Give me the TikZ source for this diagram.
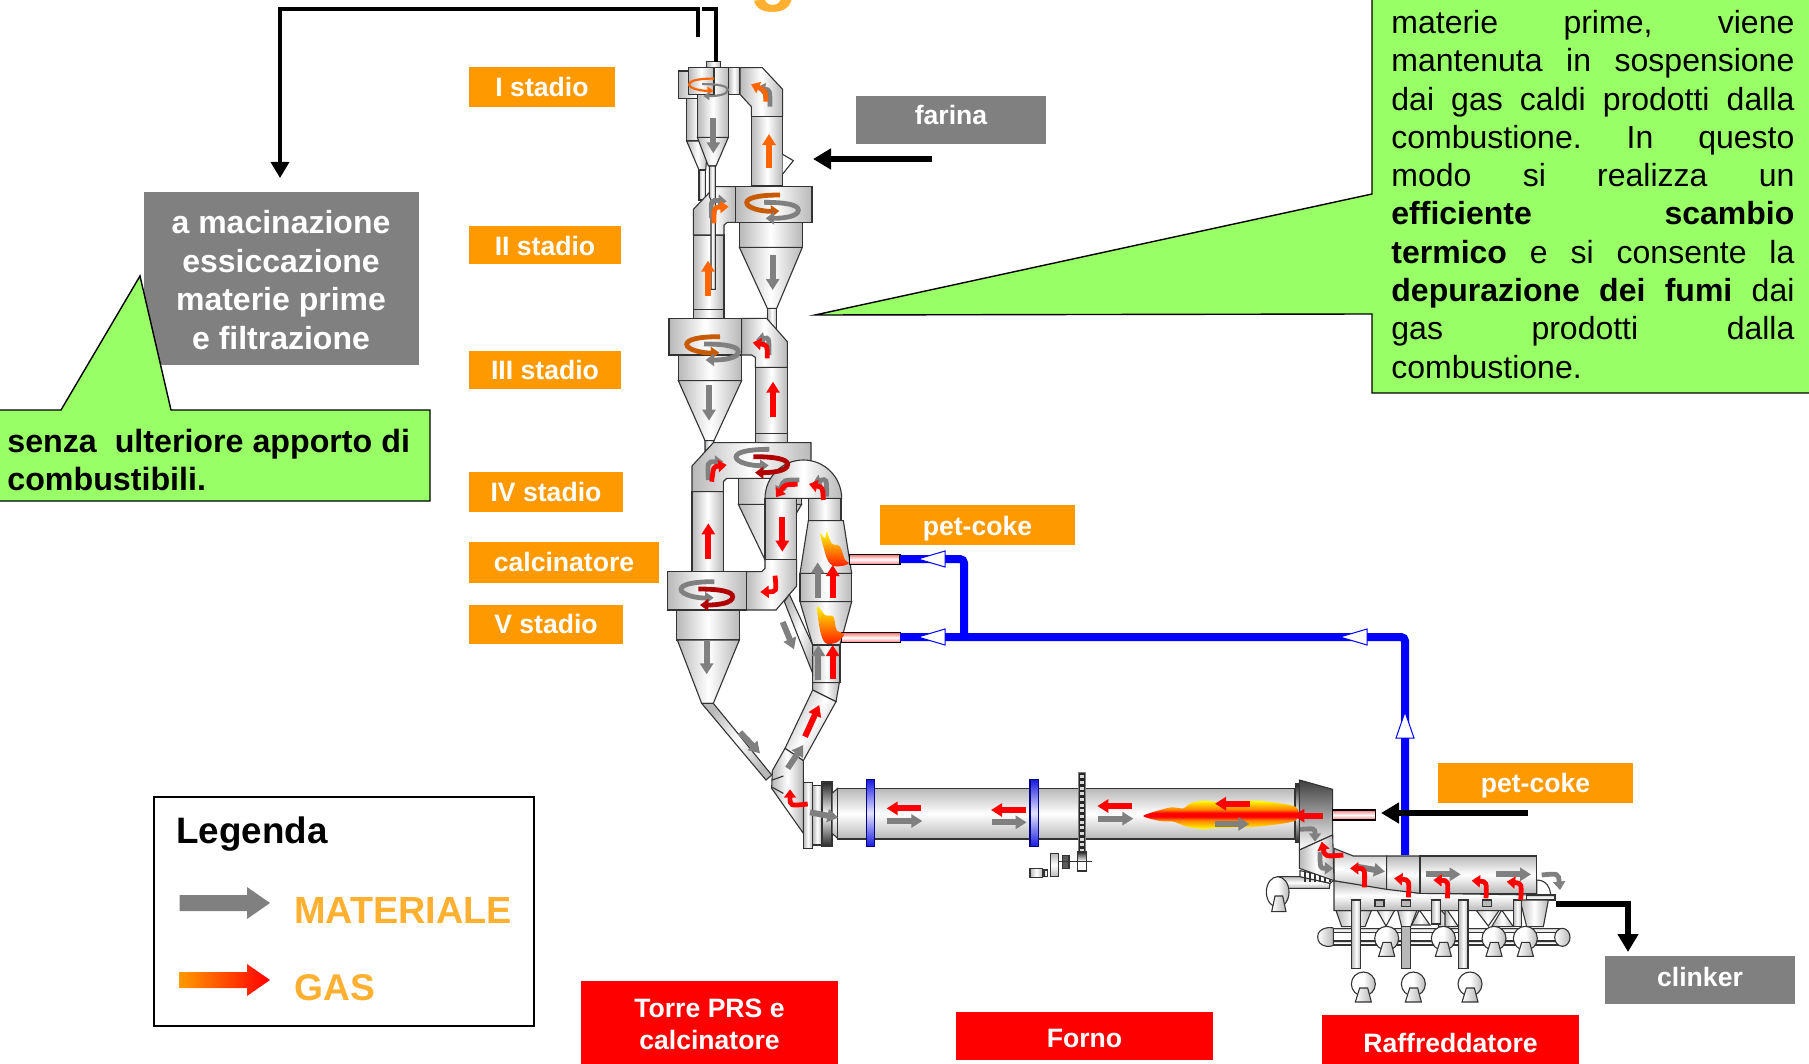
\documentclass[tikz,border=0pt]{standalone}
\usepackage{fontspec}
\setmainfont{Liberation Sans}
\usetikzlibrary{arrows.meta,calc,shapes.geometric}
\definecolor{boxor}{HTML}{FF9900}
\definecolor{boxgr}{HTML}{808080}
\definecolor{calloutg}{HTML}{99FF66}
\definecolor{legor}{HTML}{FFB030}
\definecolor{gasor}{HTML}{FF6600}
\definecolor{darkor}{HTML}{C85A00}
\definecolor{darkred}{HTML}{B00000}
\definecolor{mred}{HTML}{FF0000}
\definecolor{mgr}{HTML}{808080}
\definecolor{pipegr}{HTML}{B8B8B8}
\definecolor{ringend}{HTML}{1818E0}
\definecolor{ringmid}{HTML}{E4E4FF}
\definecolor{flameor}{HTML}{FF8000}
\pgfdeclareverticalshading{flameband}{100bp}{color(0bp)=(yellow); color(26bp)=(yellow); color(41bp)=(flameor); color(47bp)=(red); color(53bp)=(red); color(59bp)=(flameor); color(74bp)=(yellow); color(100bp)=(yellow)}
\pgfdeclareverticalshading{ringband}{100bp}{color(0bp)=(ringend); color(25bp)=(ringend); color(50bp)=(ringmid); color(75bp)=(ringend); color(100bp)=(ringend)}
\tikzset{
  zA/.style={shift={(650,0)},x=0.166667pt,y=-0.166667pt},
  zB/.style={shift={(650,330)},x=0.166667pt,y=-0.166667pt},
  zC/.style={shift={(740,700)},x=0.166667pt,y=-0.166667pt},
  zD/.style={shift={(1130,760)},x=0.166667pt,y=-0.166667pt},
  edge/.style={draw=black!80,line width=.55pt},
  vg/.style={edge,left color=pipegr,right color=pipegr,middle color=white},
  hg/.style={edge,top color=pipegr,bottom color=pipegr,middle color=white},
  dg/.style={edge,top color=black!85,bottom color=black!85,middle color=white},
  blg/.style={draw=blue!50!black,line width=.55pt,shading=ringband},
  tube/.style={draw=black,line width=.6pt,top color=red!55,bottom color=red!55,middle color=white},
  farr/.style={line width=3pt,-{Triangle[length=5.5pt,width=6.5pt]}},
  sarr/.style={line width=2.4pt,-{Triangle[length=4.2pt,width=6pt]}},
  thin arr/.style={line width=1.1pt,-{Triangle[length=3pt,width=4pt]}},
  tagtext/.style={text=white,font=\bfseries\fontsize{13.3}{16}\selectfont,align=center,inner sep=0pt},
  bigtext/.style={text=white,font=\bfseries\fontsize{16}{19.2}\selectfont,align=center,inner sep=0pt},
  callout/.style={fill=calloutg,draw=black,line width=.7pt},
  conn/.style={draw=black,line width=1.8pt},
  connh/.style={conn,-{Triangle[length=8pt,width=9pt]}},
  connw/.style={draw=black,line width=3pt,-{Triangle[length=9pt,width=10pt]}},
  coal/.style={draw=blue,line width=4pt,rounded corners=2pt},
  coalhead/.style={fill=white,draw=blue,line width=.5pt},
}
% swirl: centre, scale, upper colour, lower colour, arrow style
\newcommand{\swirl}[6]{%
  \begin{scope}[shift={(#1,#2)},x=#3*0.166667pt,y=-#3*0.166667pt]
    \draw[#6,#4] (23,-35) .. controls (-47,-35) and (-77,-25) .. (-77,-12) .. controls (-77,5) and (-27,15) .. (21,13);
    \draw[#6,#5] (-25,-13) .. controls (43,-13) and (78,-5) .. (78,10) .. controls (78,30) and (33,35) .. (-20,35);
  \end{scope}}
\newcommand{\bendarr}[5]{\draw[sarr,#1] (#2) .. controls (#3) and (#3) .. (#4)#5;}
\newcommand{\fan}[3]{%
  \begin{scope}[shift={(#1,#2)},x=#3*0.166667pt,y=-#3*0.166667pt]
    \path[edge,left color=white,right color=pipegr,middle color=white] (0,0) circle [radius=36];
    \path[edge,left color=white,right color=pipegr] (-24,54) -- (24,54) -- (13,12) -- (-11,12) -- cycle;
  \end{scope}}
\begin{document}
\begin{tikzpicture}[x=0.5pt,y=-0.5pt]
\useasboundingbox (0,0) rectangle (1809,1064);
\fill[white] (0,0) rectangle (1809,1064);

% clipped title fragment
\begin{scope}
\clip (0,0) rectangle (1809,1064);
\node[anchor=base,inner sep=0pt,text=legor,font=\bfseries\fontsize{40}{40}\selectfont] (titlefrag) at (774,-4) {g};
\end{scope}

%% ---------- TOP TOWER (zoom 1 coordinates) ----------
\begin{scope}[zA]
  % rear cyclone I
  \path[vg] (110,295) rectangle (175,423);
  \path[vg] (110,423) -- (175,423) -- (167,510) -- (147,510) -- cycle;
  \path[vg] (147,510) rectangle (167,600);
  \path[vg] (85,213) rectangle (192,295);
  % duct to II
  \path[vg] (130,705) rectangle (222,928);
  \path[vg] (130,928) rectangle (222,956);
  \path[vg] (195,560) -- (257,560) -- (257,667) -- (232,667) -- (222,675) -- (222,705) -- (130,705) -- (130,628) -- cycle;
  % front cyclone I
  \path[vg] (142,203) rectangle (235,412);
  \path[vg] (115,203) rectangle (192,283);
  \path[vg] (142,412) -- (235,412) -- (198,498) -- (175,498) -- cycle;
  \path[vg] (170,185) rectangle (212,203);
  \path[vg] (178,498) -- (196,498) -- (196,868) -- (183,868) -- (183,600) -- (178,590) -- cycle;
  \path[vg] (235,203) rectangle (270,283);
  \path[vg] (270,203) -- (337,203) -- (398,268) -- (398,350) -- (304,350) -- (304,320) -- (270,283) -- cycle;
  \path[vg] (304,350) rectangle (398,558);
  \path[draw=black!80,fill=white,line width=.55pt] (398,463) -- (430,482) -- (398,522);
  % cyclone II
  \path[vg] (268,667) rectangle (457,742);
  \path[vg] (268,742) -- (457,742) -- (380,925) -- (352,925) -- cycle;
  \path[vg] (352,925) rectangle (380,985);
  \path[vg] (257,560) rectangle (486,667);
  % arrows
  \swirl{175}{262}{.75}{gasor}{mgr}{thin arr}
  \draw[farr,mgr] (190,355) -- (190,460);
  \draw[farr,gasor] (357,505) -- (357,402);
  \draw[farr,mgr] (368,765) -- (368,870);
  \draw[farr,gasor] (174,888) -- (174,782);
  \bendarr{mgr}{360,320}{360,270}{320,263}{}
  \bendarr{gasor}{347,305}{347,272}{303,253}{}
  \bendarr{mgr}{185,655}{182,600}{230,604}{}
  \bendarr{gasor}{192,670}{192,622}{236,620}{}
  \swirl{367}{620}{1}{darkor}{mgr}{sarr}
\end{scope}

%% ---------- MIDDLE TOWER (zoom 2 coordinates) ----------
\begin{scope}[zB]
  % III
  \path[vg] (85,75) rectangle (275,152);
  \path[vg] (85,152) -- (275,152) -- (192,332) -- (165,332) -- cycle;
  \path[vg] (165,332) -- (192,332) -- (190,340) -- (165,365) -- cycle;
  \path[vg] (275,-35) -- (350,-35) -- (412,35) -- (412,112) -- (316,112) -- (316,82) -- (305,75) -- (275,75) -- cycle;
  \path[vg] (316,112) rectangle (412,310);
  \path[vg] (316,310) rectangle (412,338);
  \path[vg] (57,-35) rectangle (275,75);
  % IV
  \path[vg] (265,445) rectangle (455,523);
  \path[vg] (265,523) -- (455,523) -- (350,700) -- cycle;
  \path[vg] (126,485) rectangle (220,725);
  \path[vg] (190,338) -- (483,338) -- (483,445) -- (230,445) -- (220,455) -- (220,485) -- (126,485) -- (126,408) -- cycle;
  % V
  \path[vg] (80,840) rectangle (268,930);
  \path[vg] (82,930) -- (268,930) -- (190,1120) -- (155,1120) -- cycle;
  \path[vg] (288,725) -- (335,725) -- (345,715) -- (345,688) -- (440,688) -- (440,768) -- (378,840) -- (288,840) -- cycle;
  \path[vg] (52,725) rectangle (290,840);
  \path[vg] (345,505) rectangle (440,688);
  % U pipe
  \path[vg] (345,505) arc[start angle=180,end angle=360,radius=115] -- cycle;
  % calciner
  \path[vg] (475,505) rectangle (573,572);
  \path[vg] (475,572) -- (580,572) -- (605,730) -- (450,730) -- cycle;
  \path[vg] (450,730) rectangle (605,815);
  \path[vg] (450,815) -- (605,815) -- (570,945) -- (488,945) -- cycle;
  \path[vg] (488,945) rectangle (570,1058);
  \path[vg] (488,1058) -- (568,1058) -- (558,1115) -- (488,1080) -- cycle;
  % feed pipe
  \path[vg,shading angle=70] (403,815) -- (418,793) -- (488,945) -- (488,1030) -- cycle;
  % burners
  \path[tube] (598,673) rectangle (750,704);
  \path[tube] (575,908) rectangle (752,938);
  % flames
  \path[top color=yellow,bottom color=red!80!orange] plot[smooth cycle,tension=.6] coordinates {(510,610) (525,625) (530,605) (545,640) (570,650) (585,690) (597,698) (585,706) (550,708) (532,688) (520,650)};
  \path[top color=yellow,bottom color=red!80!orange] plot[smooth cycle,tension=.6] coordinates {(502,830) (525,855) (550,860) (560,900) (582,912) (570,930) (552,940) (525,938) (510,900)};
  % arrows
  \draw[farr,mgr] (177,165) -- (177,272);
  \draw[farr,mred] (369,260) -- (369,155);
  \draw[farr,mgr] (170,930) -- (170,1033);
  \draw[farr,mred] (175,687) -- (175,580);
  \draw[farr,mred] (397,562) -- (397,665);
  \draw[farr,mgr] (503,803) -- (503,697);
  \draw[farr,mred] (548,803) -- (548,705);
  \draw[farr,mgr] (505,1050) -- (505,945);
  \draw[farr,mred] (548,1048) -- (548,945);
  \draw[farr,mgr] (398,876) -- (432,958);
  \bendarr{mgr}{357,75}{357,22}{318,30}{}
  \bendarr{mred}{352,85}{352,45}{308,38}{}
  \bendarr{mgr}{175,450}{172,395}{220,395}{}
  \bendarr{mred}{185,455}{190,410}{230,405}{}
  \bendarr{mgr}{448,450}{400,450}{386,495}{}
  \bendarr{mred}{443,463}{405,463}{378,502}{}
  \bendarr{mgr}{530,500}{530,445}{488,460}{}
  \bendarr{mred}{520,510}{518,472}{477,462}{}
  \bendarr{mred}{375,737}{380,785}{331,786}{}
  \swirl{187}{55}{1}{darkor}{mgr}{sarr}
  \swirl{335}{393}{1}{mgr}{darkred}{sarr}
  \swirl{170}{790}{1}{mgr}{darkred}{sarr}
\end{scope}

%% ---------- COAL LINES ----------
\coordinate (coalA) at (900,559);
\coordinate (coalB) at (900,637);
\coordinate (coalC) at (964,637);
\coordinate (coalD) at (1405,855);
\draw[coal] (coalA) -| (coalC);
\draw[coal] (coalB) -| (coalD);
\path[coalhead] (945,551) -- (918,559) -- (945,567) -- cycle;
\path[coalhead] (945,629) -- (918,637) -- (945,645) -- cycle;
\path[coalhead] (1367,629) -- (1340,637) -- (1367,645) -- cycle;
\path[coalhead] (1396,738) -- (1405,712) -- (1414,738) -- cycle;

%% ---------- KILN INLET + KILN (zoom 3 coordinates) ----------
\begin{scope}[zC]
  \path[vg,shading angle=60] (-115,10) -- (-80,10) -- (95,225) -- (78,240) -- cycle;
  \path[vg,shading angle=60] (218,-30) -- (288,5) -- (190,182) -- (135,145) -- cycle;
  \path[vg] (135,145) -- (190,182) -- (190,400) -- (95,265) -- (97,212) -- cycle;
  \draw[edge] (97,240) -- (130,228) (97,262) -- (130,280);
  \path[vg] (190,248) rectangle (218,445);
  \path[vg] (218,256) rectangle (246,435);
  \path[dg] (246,246) rectangle (276,440);
  \path[hg] (276,280) -- (293,265) -- (293,415) -- (276,400) -- cycle;
  \path[hg] (293,265) rectangle (1665,417);
  \path[blg] (380,238) rectangle (404,440);
  \path[blg] (870,238) rectangle (896,440);
  % girth gear
  \path[fill=black!85,draw=black!50,line width=.4pt] (1015,218) rectangle (1035,470);
  \foreach \g in {226,243,...,450}{\fill[white!85!black] (1019,\g) rectangle (1032,\g+9);}
  % drive
  \path[dg,top color=black!85,bottom color=white,middle color=white] (1012,455) rectangle (1040,513);
  \path[vg,left color=black!65,right color=black!65] (967,467) rectangle (987,505);
  \path[hg] (931,460) rectangle (955,530);
  \draw[edge] (955,485) -- (1055,485);
  \path[vg] (912,510) rectangle (923,530);
  \path[vg] (870,505) rectangle (908,533);
  \draw[edge] (908,520) -- (912,520);
  % arrows
  \draw[farr,mred] (543,325) -- (440,325);
  \draw[farr,mgr] (442,363) -- (547,363);
  \draw[farr,mred] (857,330) -- (753,330);
  \draw[farr,mgr] (755,367) -- (860,367);
  \draw[farr,mred] (1175,318) -- (1072,318);
  \draw[farr,mgr] (1075,356) -- (1180,356);
  \draw[farr,mgr] (210,337) -- (295,353);
  \bendarr{mred}{203,312}{150,318}{150,268}{}
  \draw[farr,mgr] (0,97) -- (60,160);
  \draw[farr,mred] (195,110) -- (238,15);
  \draw[farr,mgr] (143,205) -- (190,135);
\end{scope}

%% ---------- COOLER (zoom 4 coordinates) ----------
\begin{scope}[zD]
  % manifold and end caps
  \path[hg] (585,505) rectangle (1295,518);
  \path[hg] (585,543) rectangle (1295,555);
  \path[edge,left color=white,right color=pipegr] (563,530) .. controls (563,500) and (610,500) .. (610,505) -- (610,556) .. controls (600,562) and (563,562) .. (563,530);
  \path[edge,left color=white,right color=pipegr] (1297,532) circle [x radius=23,y radius=27];
  % hoppers
  \path[vg] (618,452) -- (724,452) -- (705,500) -- (635,500) -- cycle;
  \path[vg] (735,440) -- (800,440) -- (768,498) -- cycle;
  \path[vg] (800,440) -- (865,440) -- (842,500) -- (815,500) -- cycle;
  \path[vg] (868,450) -- (900,495) -- (845,495) -- cycle;
  \path[vg] (925,440) -- (975,500) -- (925,500) -- cycle;
  \path[vg] (945,440) -- (985,500) -- (945,500) -- cycle;
  \path[vg] (1030,440) -- (1115,440) -- (1075,498) -- cycle;
  \path[vg] (1115,450) -- (1150,500) -- (1085,500) -- cycle;
  % housing
  \path[hg] (612,362) -- (870,400) -- (1225,405) -- (1225,420) -- (1150,452) -- (612,452) -- cycle;
  % cooler sections
  \path[hg] (612,265) -- (670,288) -- (770,288) -- (770,388) -- (612,362) -- cycle;
  \path[hg] (770,288) -- (870,288) -- (870,400) -- (770,388) -- cycle;
  \path[hg] (870,288) rectangle (1220,400);
  \path[edge,fill=white] (1220,360) .. controls (1250,360) and (1262,385) .. (1262,410) -- (1220,410) -- cycle;
  \path[hg] (1190,405) rectangle (1275,420);
  \path[vg] (1170,420) -- (1255,420) -- (1240,500) -- (1190,500) -- cycle;
  % ducts
  \path[edge,fill=pipegr] (735,420) rectangle (762,440);
  \path[edge,fill=pipegr] (815,420) rectangle (842,440);
  \path[edge,fill=pipegr] (1057,420) rectangle (1085,440);
  \path[vg] (905,420) rectangle (932,492);
  \path[vg] (1150,420) rectangle (1175,500);
  \path[edge,fill=pipegr] (815,500) rectangle (842,625);
  \path[vg] (665,420) rectangle (692,625);
  \path[vg] (986,420) rectangle (1014,625);
  % fans
  \fan{770}{535}{1}
  \fan{940}{535}{1}
  \fan{1092}{535}{1}
  \fan{1186}{535}{1}
  \fan{700}{672}{1}
  \fan{850}{672}{1}
  \fan{1020}{672}{1}
  % left fan and grate
  \path[hg] (443,350) -- (520,350) -- (600,370) -- (598,385) -- (443,385) -- cycle;
  \path[edge,left color=white,right color=pipegr,middle color=white] (443,396) circle [x radius=34,y radius=46];
  \path[edge,left color=white,right color=pipegr] (425,455) -- (468,455) -- (458,408) -- (435,408) -- cycle;
  \path[edge,fill=white] (510,332) -- (610,352) -- (610,362) -- (600,370) -- (510,350) -- cycle;
  \foreach \t in {525,540,...,600}{\draw[edge] (\t,336) -- (\t,366);}
  % firing hood
  \path[dg] (496,72) rectangle (508,248);
  \path[edge,top color=black!75,bottom color=white] (508,60) -- (608,88) -- (608,225) -- (508,270) -- cycle;
  \path[vg] (508,270) -- (608,225) -- (612,362) -- (508,325) -- cycle;
  % burner
  \path[tube] (608,150) rectangle (737,180);
  % flame
  \path[shading=flameband] plot[smooth cycle,tension=.45] coordinates {(40,168) (90,150) (125,142) (160,145) (180,130) (220,122) (270,126) (380,122) (496,140) (496,182) (380,200) (250,205) (220,208) (170,200) (130,185) (90,183)};
  % arrows
  \draw[farr,mred] (360,131) -- (255,131);
  \draw[farr,mgr] (255,192) -- (358,192);
  \draw[farr,mred] (580,167) -- (490,167);
  \draw[farr,mgr] (680,320) -- (765,335);
  \draw[farr,mgr] (887,343) -- (992,343);
  \draw[farr,mgr] (1098,343) -- (1203,343);
  \bendarr{mgr}{1235,345}{1285,340}{1290,390}{}
  \bendarr{mgr}{510,208}{555,205}{555,245}{}
  \bendarr{mgr}{570,275}{570,325}{610,325}{}
  \bendarr{mred}{640,285}{585,290}{575,245}{}
  \bendarr{mred}{703,382}{705,325}{660,325}{}
  \bendarr{mred}{835,412}{838,360}{792,355}{}
  \bendarr{mred}{952,415}{955,362}{910,360}{}
  \bendarr{mred}{1068,415}{1070,365}{1025,362}{}
  \bendarr{mred}{1172,420}{1175,370}{1130,365}{}
\end{scope}

%% ---------- ORANGE / GREY / RED LABELS ----------
\fill[boxor] (469,67) rectangle (615,107);
\node[tagtext] (s1) at (542,87) {I stadio};
\fill[boxor] (469,226) rectangle (621,264);
\node[tagtext] (s2) at (545,246) {II stadio};
\fill[boxor] (469,351) rectangle (621,389);
\node[tagtext] (s3) at (545,370) {III stadio};
\fill[boxor] (469,472) rectangle (623,512);
\node[tagtext] (s4) at (546,492) {IV stadio};
\fill[boxor] (469,542) rectangle (659,583);
\node[tagtext] (s5) at (564,561.5) {calcinatore};
\fill[boxor] (469,605) rectangle (623,644);
\node[tagtext] (s6) at (546,623.5) {V stadio};
\fill[boxor] (880,505) rectangle (1075,545);
\node[tagtext] (pc1) at (977.5,528.5) {pet-coke};
\fill[boxor] (1438,763) rectangle (1633,803);
\node[tagtext] (pc2) at (1535.5,785.3) {pet-coke};
\fill[boxgr] (856,96) rectangle (1046,144);
\node[tagtext] (farina) at (951,115.4) {farina};
\fill[boxgr] (1605,956) rectangle (1795,1004);
\node[tagtext] (clinker) at (1700,976.5) {clinker};
\fill[boxgr] (144,192) rectangle (419,365);
\node[bigtext] (mac) at (281,280) {a macinazione\\essiccazione\\materie prime\\e filtrazione};
\fill[mred] (581,981) rectangle (838,1064);
\node[tagtext] (torre) at (709.5,1024.5) {Torre PRS e\\calcinatore};
\fill[mred] (956,1012) rectangle (1213,1060);
\node[tagtext] (forno) at (1084.5,1038) {Forno};
\fill[mred] (1322,1015) rectangle (1579,1064);
\node[tagtext] (raff) at (1450.5,1042.5) {Raffreddatore};

%% ---------- BLACK CONNECTORS ----------
\coordinate (exA) at (698,37);
\coordinate (exB) at (280,9);
\coordinate (exC) at (716,62);
\coordinate (exD) at (702,9);
\coordinate (macTop) at (280,178);
\draw[connh,line join=miter] (exA) -- (exA |- exB) -- (exB) -- (macTop);
\draw[conn] (exC) -- (exC |- exD) -- (exD);
\coordinate (farS) at (932,159);
\coordinate (farE) at (813,159);
\draw[connw] (farS) -- (farE);
\coordinate (pcS) at (1528,813);
\coordinate (pcE) at (1381,813);
\draw[connw] (pcS) -- (pcE);
\coordinate (clkS) at (1556,904);
\coordinate (clkB) at (1628,904);
\coordinate (clkE) at (1628,952);
\draw[connw,line width=2.7pt] (clkS) -- (clkB) -- (clkE);

%% ---------- GREEN CALLOUTS ----------
\path[callout] (61,410) -- (140,276) -- (171,410) -- (430,410) -- (430,501) -- (-5,501) -- (-5,410) -- cycle;
\node[anchor=base west,inner sep=0pt,font=\bfseries\fontsize{16.1}{19.2}\selectfont,align=left] (leftnote) at (7,452) {\parbox[t]{215pt}{\baselineskip=19.2pt senza\ \ ulteriore apporto di\\combustibili.}};
\path[callout] (1372,-5) -- (1372,194) -- (815,315) -- (1372,314) -- (1372,393) -- (1815,393) -- (1815,-5) -- cycle;
\node[anchor=base west,inner sep=0pt,font=\fontsize{16}{19.15}\selectfont] (rightnote) at (1391,33.5) {\parbox[t]{201.5pt}{\baselineskip=19.15pt\parskip=0pt\parindent=0pt
\hbox to 201.5pt{materie\hfill prime,\hfill viene}
\hbox to 201.5pt{mantenuta\hfill in\hfill sospensione}
\hbox to 201.5pt{dai\hfill gas\hfill caldi\hfill prodotti\hfill dalla}
\hbox to 201.5pt{combustione.\hfill In\hfill questo}
\hbox to 201.5pt{modo\hfill si\hfill realizza\hfill un}
\hbox to 201.5pt{\textbf{efficiente}\hfill\textbf{scambio}}
\hbox to 201.5pt{\textbf{termico}\hfill e\hfill si\hfill consente\hfill la}
\hbox to 201.5pt{\textbf{depurazione\hfill dei\hfill fumi}\hfill dai}
\hbox to 201.5pt{gas\hfill prodotti\hfill dalla}
\hbox to 201.5pt{combustione.\hfill}}};

%% ---------- LEGEND ----------
\path[draw=black,line width=.9pt,fill=white] (154,797) rectangle (534,1026);
\node[anchor=base west,inner sep=0pt,font=\bfseries\fontsize{18.4}{22}\selectfont] (legt) at (176,843) {Legenda};
\node[anchor=base west,inner sep=0pt,text=legor,font=\bfseries\fontsize{18.9}{22}\selectfont] (legm) at (294,923) {MATERIALE};
\node[anchor=base west,inner sep=0pt,text=legor,font=\bfseries\fontsize{18.6}{22}\selectfont] (legg) at (294,1000) {GAS};
\fill[mgr] (179.5,895) -- (247,895) -- (247,887) -- (270,903) -- (247,919) -- (247,911) -- (179.5,911) -- cycle;
\path[left color=boxor,right color=mred] (179.5,972) -- (247,972) -- (247,964) -- (270,980) -- (247,996) -- (247,988) -- (179.5,988) -- cycle;
\end{tikzpicture}
\end{document}
